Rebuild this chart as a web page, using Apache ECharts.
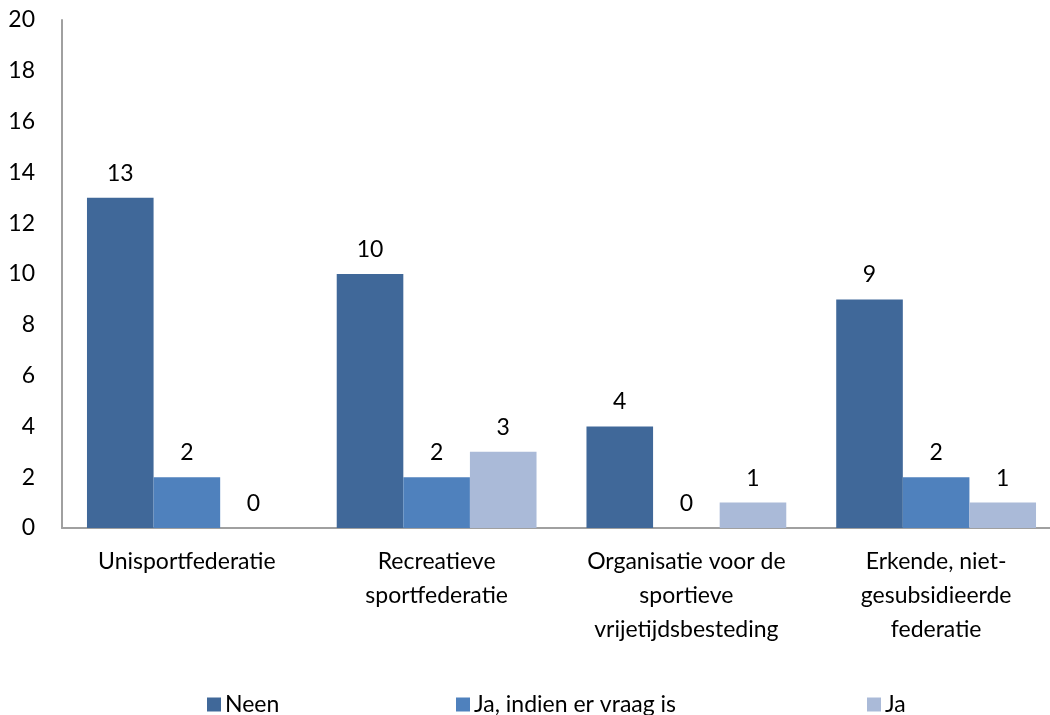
<!DOCTYPE html>
<html lang="nl">
<head>
    <meta charset="UTF-8">
    <title>federaties</title>
    <script src="https://cdn.jsdelivr.net/npm/echarts@6/dist/echarts.min.js"></script>
    <style>
        body { margin: 0; background: #fff; overflow: hidden; }
    </style>
</head>
<body>
    <!-- plot area runs a bit past the right edge, like the original -->
    <div id="main" style="width: 1061px; height: 715px;"></div>
    <script>
        var categories = ['Unisportfederatie', 'Recreatieve\nsportfederatie', 'Organisatie voor de\nsportieve\nvrijetijdsbesteding', 'Erkende, niet-\ngesubsidieerde\nfederatie'];
        var seriesNames = ['Neen', 'Ja, indien er vraag is', 'Ja'];
        var neen = [13, 10, 4, 9];
        var jaIndien = [2, 2, 0, 2];
        var ja = [0, 3, 1, 1];
        var colors = ['#406899', '#4F81BD', '#AABAD8'];

        var font = 'Lato, "Open Sans", sans-serif';
        var fs = 23;
        var myChart = echarts.init(document.getElementById('main'));

        var values = [neen, jaIndien, ja];
        var series = [];
        for (var i = 0; i < seriesNames.length; i++) {
            series.push({
                name: seriesNames[i],
                type: 'bar',
                data: values[i],
                barGap: 0,
                barCategoryGap: '20%',
                itemStyle: { color: colors[i] },
                label: {
                    show: true,
                    position: 'top',
                    distance: 13,
                    color: '#000',
                    fontSize: fs,
                    fontFamily: font
                }
            });
        }

        // Excel-style legend: items spaced unevenly, so one legend per item
        var legendLeft = [202, 451, 862];
        var legends = [];
        for (var j = 0; j < seriesNames.length; j++) {
            legends.push({
                data: [seriesNames[j]],
                left: legendLeft[j],
                top: 688,
                icon: 'rect',
                itemWidth: 14,
                itemHeight: 14,
                itemGap: 0,
                textStyle: { fontSize: fs, fontFamily: font, color: '#000', padding: [0, 0, 0, -1] }
            });
        }

        myChart.setOption({
            animation: false,
            grid: { left: 62, right: 0, top: 20, bottom: 187 },
            legend: legends,
            xAxis: {
                type: 'category',
                data: categories,
                axisLine: { lineStyle: { color: '#A0A0A0', width: 2 } },
                axisTick: { show: false },
                axisLabel: {
                    color: '#000',
                    fontSize: fs,
                    fontFamily: font,
                    lineHeight: 34,
                    margin: 17,
                    interval: 0
                }
            },
            yAxis: {
                type: 'value',
                min: 0,
                max: 20,
                interval: 2,
                splitLine: { show: false },
                axisLine: { show: true, lineStyle: { color: '#A0A0A0', width: 2 } },
                axisTick: { show: false },
                axisLabel: {
                    color: '#000',
                    fontSize: fs,
                    fontFamily: font,
                    margin: 27
                }
            },
            series: series
        });
    </script>
</body>
</html>
